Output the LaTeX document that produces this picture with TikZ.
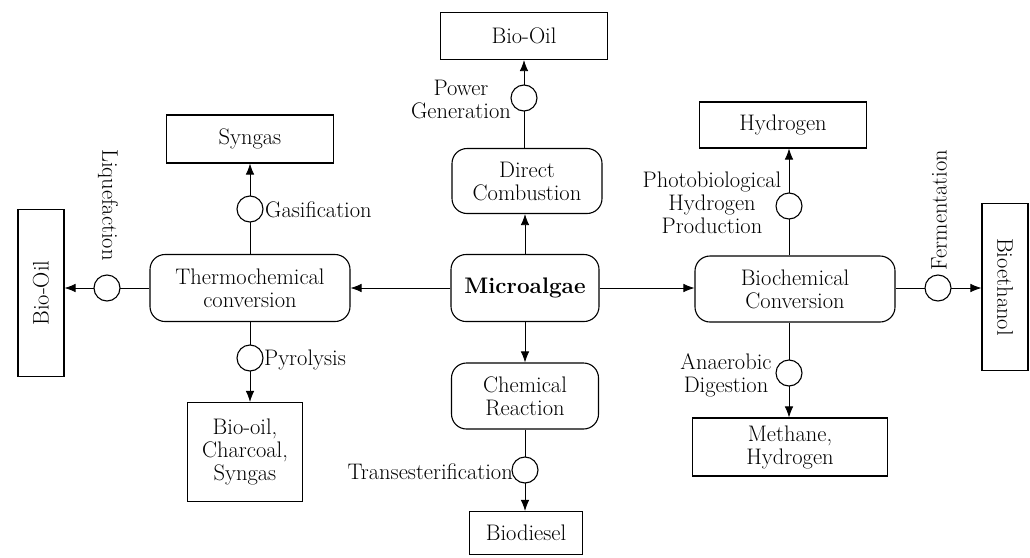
\documentclass[tikz,border=0pt]{standalone}
\usepackage{fontspec}
\usetikzlibrary{arrows.meta}
\begin{document}
\begin{tikzpicture}[x=1pt,y=-1pt,
  font=\fontsize{22.5}{23}\selectfont,
  box/.style={draw,line width=1.1pt,inner sep=0pt,align=center},
  rbox/.style={box,rounded corners=15pt},
  conn/.style={line width=0.8pt,-{Latex[length=11pt,width=8.5pt]}},
  valve/.style={circle,draw,fill=white,line width=1.1pt,minimum size=26pt,inner sep=0pt},
  lbl/.style={inner sep=0pt,align=center}]
\useasboundingbox (0,0) rectangle (1030,557);

% boxes
\node[rbox,minimum width=148pt,minimum height=67pt,font=\fontsize{22.5}{23}\selectfont\bfseries] (micro) at (525,288) {Microalgae};
\node[rbox,minimum width=150pt,minimum height=65pt] (direct) at (527,181) {Direct\\Combustion};
\node[box,minimum width=167pt,minimum height=47pt] (oiltop) at (524,36) {Bio-Oil};
\node[rbox,minimum width=147pt,minimum height=66pt] (chem) at (525,396) {Chemical\\Reaction};
\node[box,minimum width=113pt,minimum height=43pt] (diesel) at (526,533) {Biodiesel};
\node[rbox,minimum width=200pt,minimum height=67pt] (thermo) at (250,288) {Thermochemical\\conversion};
\node[box,minimum width=167pt,minimum height=48pt] (syngas) at (250,139) {Syngas};
\node[box,minimum width=46pt,minimum height=167pt] (oilleft) at (41,293) {\rotatebox{90}{Bio-Oil}};
\node[box,minimum width=115pt,minimum height=99pt] (boc) at (245,452) {Bio-oil,\\Charcoal,\\Syngas};
\node[rbox,minimum width=200pt,minimum height=66pt] (bioch) at (795,289) {Biochemical\\Conversion};
\node[box,minimum width=167pt,minimum height=46pt] (hyd) at (783,125) {Hydrogen};
\node[box,minimum width=195pt,minimum height=58pt] (meth) at (790,447) {Methane,\\Hydrogen};
\node[box,minimum width=46pt,minimum height=167pt] (ethanol) at (1005,287) {\rotatebox{-90}{Bioethanol}};

% connectors
\draw[conn] (micro.west) -- (thermo.east);
\draw[conn] (micro.east) -- (micro.east -| bioch.west);
\draw[conn] (micro.north) -- (micro.north |- direct.south);
\draw[conn] (micro.south) -- (micro.south |- chem.north);
\draw[conn] ([xshift=-3pt]direct.north) -- ([xshift=-3pt]direct.north |- oiltop.south);
\draw[conn] (chem.south) -- (chem.south |- diesel.north);
\draw[conn] (thermo.north) -- (thermo.north |- syngas.south);
\draw[conn] (thermo.south) -- (thermo.south |- boc.north);
\draw[conn] (thermo.west) -- (thermo.west -| oilleft.east);
\draw[conn] ([xshift=-6pt]bioch.north) -- ([xshift=-6pt]bioch.north |- hyd.south);
\draw[conn] ([xshift=-6pt]bioch.south) -- ([xshift=-6pt]bioch.south |- meth.north);
\draw[conn] (bioch.east |- micro.east) -- (micro.east -| ethanol.west);

% valves
\node[valve] (vpow) at (524,98) {};
\node[valve] (vgas) at (250,209) {};
\node[valve] (vliq) at (107,288) {};
\node[valve] (vpyr) at (250,358) {};
\node[valve] (vtra) at (525,470) {};
\node[valve] (vpho) at (789,206) {};
\node[valve] (vana) at (789,373) {};
\node[valve] (vfer) at (938,288) {};

% labels
\node[lbl] (lpow) at (461,99) {Power\\Generation};
\node[lbl,anchor=west] (lgas) at (265,210) {Gasification};
\node[lbl,rotate=-90] (lliq) at (108,205) {Liquefaction};
\node[lbl,anchor=west] (lpyr) at (264,360) {Pyrolysis};
\node[lbl,anchor=east] (ltra) at (513,472) {Transesterification};
\node[lbl] (lpho) at (712,203) {Photobiological\\Hydrogen\\Production};
\node[lbl] (lana) at (726,375) {Anaerobic\\Digestion};
\node[lbl,rotate=90] (lfer) at (939,210) {Fermentation};
\end{tikzpicture}
\end{document}
